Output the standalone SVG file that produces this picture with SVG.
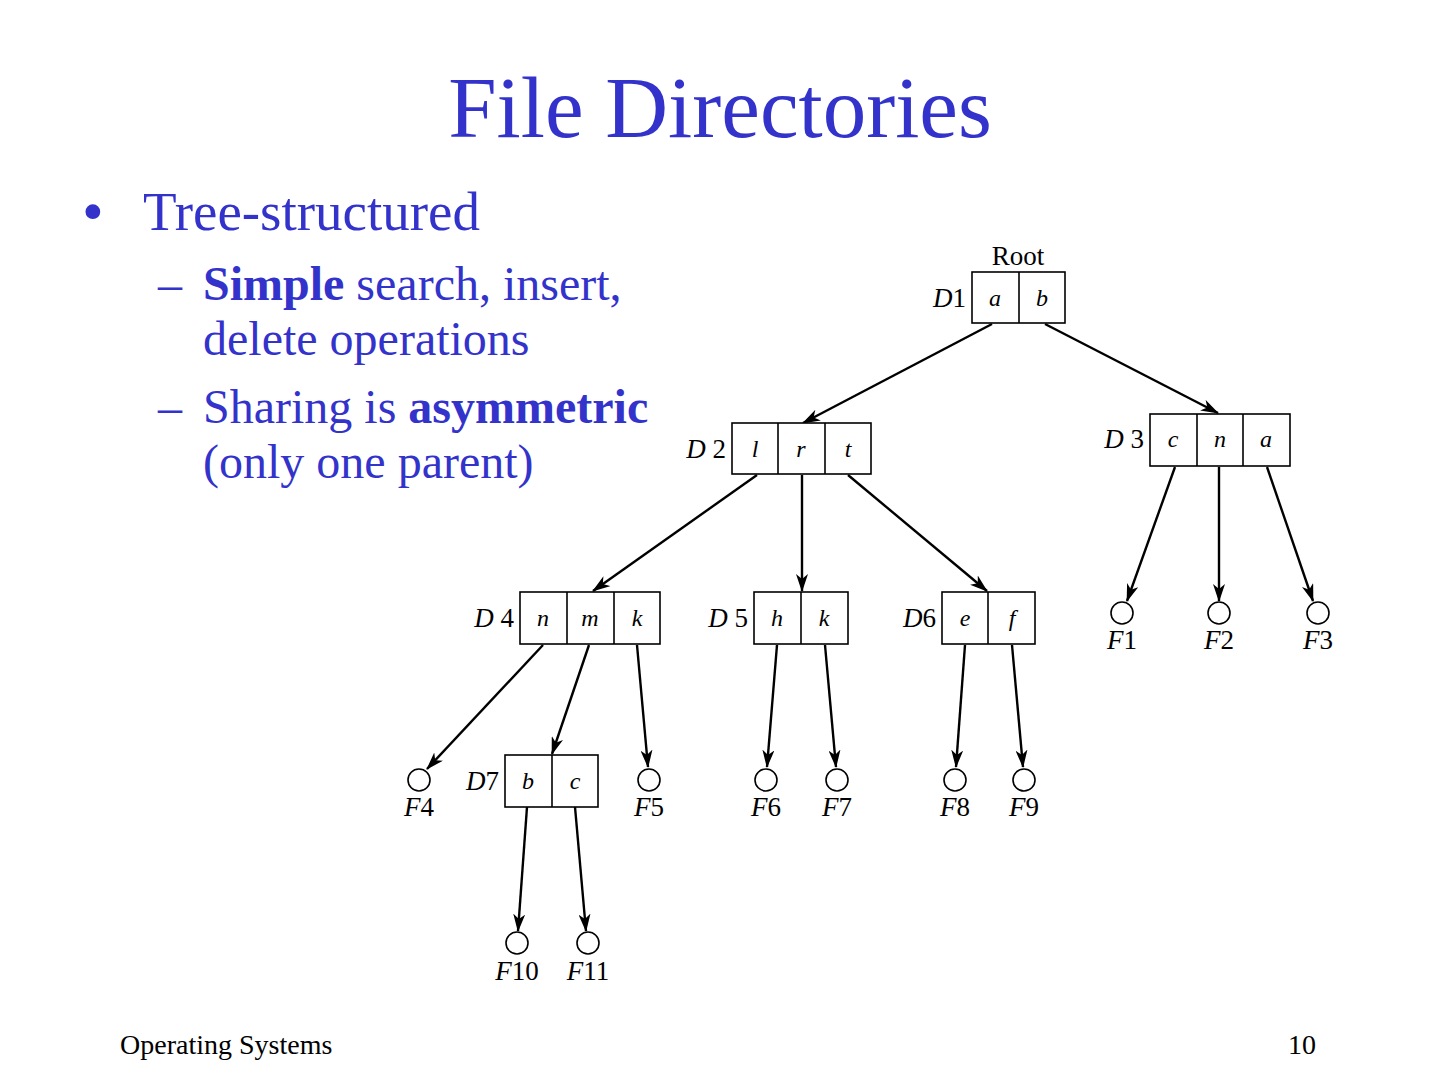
<svg xmlns="http://www.w3.org/2000/svg" width="1440" height="1080" viewBox="0 0 1440 1080">
<style>
.t{font-family:"Liberation Serif","Times New Roman",serif;fill:#3333CC}
.f{font-family:"Liberation Serif","Times New Roman",serif;fill:#000}
.box{fill:#fff;stroke:#000;stroke-width:1.6}
.div{stroke:#000;stroke-width:1.6}
.lbl{font-family:"Liberation Serif","Times New Roman",serif;font-size:27px;fill:#000}
.cell{font-family:"Liberation Serif","Times New Roman",serif;font-size:24px;font-style:italic;fill:#000;text-anchor:middle}
.i{font-style:italic}
.file{fill:#fff;stroke:#000;stroke-width:1.6}
.edge{stroke:#000;stroke-width:2.4;fill:none;marker-end:url(#ah)}
</style>
<defs>
<marker id="ah" viewBox="0 0 18 12" refX="17" refY="6" markerWidth="18" markerHeight="12" markerUnits="userSpaceOnUse" orient="auto">
<path d="M0,0 L18,6 L0,12 L5,6 z" fill="#000"/>
</marker>
</defs>
<rect width="1440" height="1080" fill="#fff"/>
<text class="t" x="720" y="137" font-size="87" text-anchor="middle">File Directories</text>
<text class="t" x="82" y="232" font-size="62">•</text>
<text class="t" x="143" y="230" font-size="55">Tree-structured</text>
<text class="t" x="158" y="300" font-size="48">–</text>
<text class="t" x="203" y="300" font-size="48"><tspan font-weight="bold">Simple</tspan> search, insert,</text>
<text class="t" x="203" y="355" font-size="48">delete operations</text>
<text class="t" x="158" y="423" font-size="48">–</text>
<text class="t" x="203" y="423" font-size="48">Sharing is <tspan font-weight="bold">asymmetric</tspan></text>
<text class="t" x="203" y="478" font-size="48">(only one parent)</text>
<text class="f" x="120" y="1054" font-size="28">Operating Systems</text>
<text class="f" x="1316" y="1054" font-size="28" text-anchor="end">10</text>

<g id="connectors">
<line class="edge" x1="992" y1="324" x2="803" y2="423"/>
<line class="edge" x1="1045" y1="324" x2="1218" y2="413"/>
<line class="edge" x1="757" y1="475" x2="593" y2="591"/>
<line class="edge" x1="802" y1="475" x2="802" y2="591"/>
<line class="edge" x1="848" y1="475" x2="987" y2="591"/>
<line class="edge" x1="1175" y1="467" x2="1127" y2="601"/>
<line class="edge" x1="1219" y1="467" x2="1219" y2="601"/>
<line class="edge" x1="1267" y1="467" x2="1313" y2="601"/>
<line class="edge" x1="543" y1="645" x2="427" y2="769"/>
<line class="edge" x1="589" y1="645" x2="552" y2="754"/>
<line class="edge" x1="637" y1="645" x2="648" y2="767"/>
<line class="edge" x1="777" y1="645" x2="767" y2="767"/>
<line class="edge" x1="825" y1="645" x2="836" y2="767"/>
<line class="edge" x1="965" y1="645" x2="956" y2="767"/>
<line class="edge" x1="1012" y1="645" x2="1023" y2="767"/>
<line class="edge" x1="527" y1="807" x2="518" y2="931"/>
<line class="edge" x1="575" y1="807" x2="586" y2="931"/>
</g>

<g id="D1">
<text class="lbl" x="1018" y="265" text-anchor="middle">Root</text>
<rect class="box" x="972" y="272" width="93" height="51"/>
<line class="div" x1="1019" y1="272" x2="1019" y2="323"/>
<text class="lbl" x="966" y="307" text-anchor="end"><tspan class="i">D</tspan>1</text>
<text class="cell" x="995" y="306">a</text>
<text class="cell" x="1042" y="306">b</text>
</g>
<g id="D2">
<rect class="box" x="732" y="423" width="139" height="51"/>
<line class="div" x1="778" y1="423" x2="778" y2="474"/>
<line class="div" x1="825" y1="423" x2="825" y2="474"/>
<text class="lbl" x="726" y="458" text-anchor="end"><tspan class="i">D</tspan> 2</text>
<text class="cell" x="755" y="457">l</text>
<text class="cell" x="801" y="457">r</text>
<text class="cell" x="848" y="457">t</text>
</g>
<g id="D3">
<rect class="box" x="1150" y="414" width="140" height="52"/>
<line class="div" x1="1197" y1="414" x2="1197" y2="466"/>
<line class="div" x1="1243" y1="414" x2="1243" y2="466"/>
<text class="lbl" x="1144" y="448" text-anchor="end"><tspan class="i">D</tspan> 3</text>
<text class="cell" x="1173" y="447">c</text>
<text class="cell" x="1220" y="447">n</text>
<text class="cell" x="1266" y="447">a</text>
</g>
<g id="D4">
<rect class="box" x="520" y="592" width="140" height="52"/>
<line class="div" x1="567" y1="592" x2="567" y2="644"/>
<line class="div" x1="614" y1="592" x2="614" y2="644"/>
<text class="lbl" x="514" y="627" text-anchor="end"><tspan class="i">D</tspan> 4</text>
<text class="cell" x="543" y="626">n</text>
<text class="cell" x="590" y="626">m</text>
<text class="cell" x="637" y="626">k</text>
</g>
<g id="D5">
<rect class="box" x="754" y="592" width="94" height="52"/>
<line class="div" x1="801" y1="592" x2="801" y2="644"/>
<text class="lbl" x="748" y="627" text-anchor="end"><tspan class="i">D</tspan> 5</text>
<text class="cell" x="777" y="626">h</text>
<text class="cell" x="824" y="626">k</text>
</g>
<g id="D6">
<rect class="box" x="942" y="592" width="93" height="52"/>
<line class="div" x1="988" y1="592" x2="988" y2="644"/>
<text class="lbl" x="936" y="627" text-anchor="end"><tspan class="i">D</tspan>6</text>
<text class="cell" x="965" y="626">e</text>
<text class="cell" x="1012" y="626">f</text>
</g>
<g id="D7">
<rect class="box" x="505" y="755" width="93" height="52"/>
<line class="div" x1="552" y1="755" x2="552" y2="807"/>
<text class="lbl" x="499" y="790" text-anchor="end"><tspan class="i">D</tspan>7</text>
<text class="cell" x="528" y="789">b</text>
<text class="cell" x="575" y="789">c</text>
</g>

<g id="F1"><circle class="file" cx="1122" cy="613" r="11"/><text class="lbl" x="1122" y="649" text-anchor="middle"><tspan class="i">F</tspan>1</text></g>
<g id="F2"><circle class="file" cx="1219" cy="613" r="11"/><text class="lbl" x="1219" y="649" text-anchor="middle"><tspan class="i">F</tspan>2</text></g>
<g id="F3"><circle class="file" cx="1318" cy="613" r="11"/><text class="lbl" x="1318" y="649" text-anchor="middle"><tspan class="i">F</tspan>3</text></g>
<g id="F4"><circle class="file" cx="419" cy="780" r="11"/><text class="lbl" x="419" y="816" text-anchor="middle"><tspan class="i">F</tspan>4</text></g>
<g id="F5"><circle class="file" cx="649" cy="780" r="11"/><text class="lbl" x="649" y="816" text-anchor="middle"><tspan class="i">F</tspan>5</text></g>
<g id="F6"><circle class="file" cx="766" cy="780" r="11"/><text class="lbl" x="766" y="816" text-anchor="middle"><tspan class="i">F</tspan>6</text></g>
<g id="F7"><circle class="file" cx="837" cy="780" r="11"/><text class="lbl" x="837" y="816" text-anchor="middle"><tspan class="i">F</tspan>7</text></g>
<g id="F8"><circle class="file" cx="955" cy="780" r="11"/><text class="lbl" x="955" y="816" text-anchor="middle"><tspan class="i">F</tspan>8</text></g>
<g id="F9"><circle class="file" cx="1024" cy="780" r="11"/><text class="lbl" x="1024" y="816" text-anchor="middle"><tspan class="i">F</tspan>9</text></g>
<g id="F10"><circle class="file" cx="517" cy="943" r="11"/><text class="lbl" x="517" y="980" text-anchor="middle"><tspan class="i">F</tspan>10</text></g>
<g id="F11"><circle class="file" cx="588" cy="943" r="11"/><text class="lbl" x="588" y="980" text-anchor="middle"><tspan class="i">F</tspan>11</text></g>
</svg>
